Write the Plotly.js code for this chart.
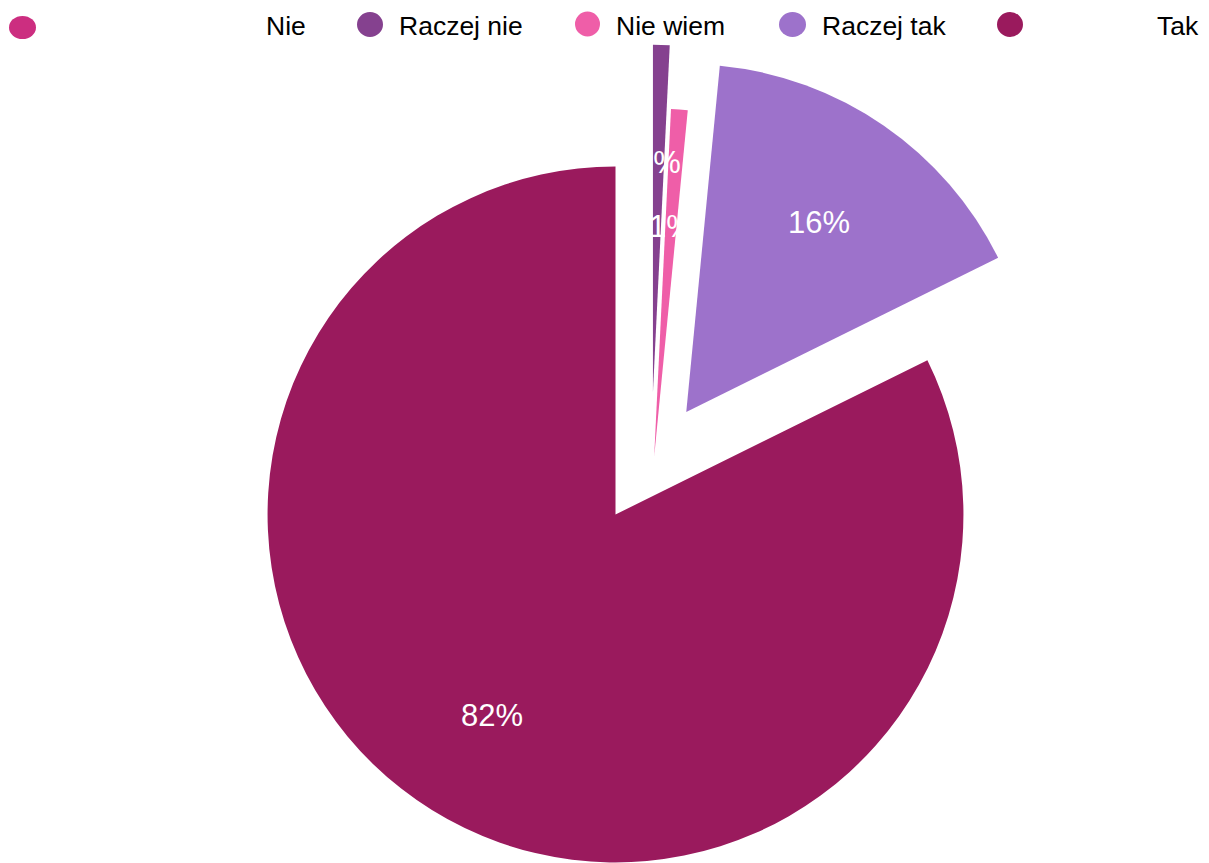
<!DOCTYPE html>
<html><head><meta charset="utf-8">
<script src="https://cdn.plot.ly/plotly-3.0.1.min.js"></script>
<style>html,body{margin:0;padding:0;background:#fff;overflow:hidden}#wrap{width:1209px;height:863px;overflow:hidden;position:relative}</style>
</head><body><div id="wrap"><div id="chart"></div></div>
<script>
// ---- data ----
const categories = ['Nie', 'Raczej nie', 'Nie wiem', 'Raczej tak', 'Tak'];
const counts = [0, 1, 1, 21, 107];
const sliceColors = ['#cc2e80', '#85418f', '#ef5ea8', '#9d72cb', '#9a1a5d'];

// ---- style / layout constants ----
const W = 1209, H = 987, ML = 22, MT = 42;
const PW = W - ML, PH = H - MT;
const pulls = [0, 0.35, 0.167, 0.358, 0];
const thinGroup = [false, true, true, false, false];   // slivers drawn in the offset pie
const offsetDomainX = [0.0581, 1];
const FONT = 'Liberation Sans, Arial, sans-serif';
const LABEL_R = 0.67;
const LABEL_DY = 2.5;
const CLEAR = 'rgba(0,0,0,0)';

const total = counts.reduce((a, b) => a + b, 0);
const px = x => (x - ML) / PW;
const py = y => 1 - (y - MT) / PH;

// legend layout (page pixels)
const legMarkers = [[22.5, 27.5, 27, 23], [370, 24.5, 26, 25], [587.5, 24, 25, 25], [792.5, 24.5, 27, 25], [1010, 24.5, 26, 25]];
const legTextX = [264, 397, 614, 820, 1155];
const legTextY = 25.5;

const shapes = [];
const annotations = [];
categories.forEach((c, i) => {
  const m = legMarkers[i];
  shapes.push({type: 'circle', xref: 'paper', yref: 'paper',
    x0: px(m[0] - m[2] / 2), x1: px(m[0] + m[2] / 2),
    y0: py(m[1] + m[3] / 2), y1: py(m[1] - m[3] / 2),
    fillcolor: sliceColors[i], line: {width: 0}});
  annotations.push({xref: 'paper', yref: 'paper', x: px(legTextX[i]), y: py(legTextY),
    xanchor: 'left', yanchor: 'middle', text: c, showarrow: false,
    font: {family: FONT, size: 26.5, color: '#000'}});
});

// pie geometry as Plotly computes it (domain y = [0,1])
const maxPull = Math.max(...pulls);
const ry = PH / 2;
const radius = ry / (1 + maxPull);
const cy = MT + PH / 2;
const cxMain = ML + PW / 2;
const cxOff = ML + PW * (offsetDomainX[0] + offsetDomainX[1]) / 2;

// percentage labels, placed from the data angles
let cum = 0;
counts.forEach((v, i) => {
  const mid = 2 * Math.PI * (cum + v / 2) / total;
  cum += v;
  if (v <= 0) return;
  const sx = Math.sin(mid), sy = -Math.cos(mid);
  const cx = thinGroup[i] ? cxOff : cxMain;
  const d = (pulls[i] + LABEL_R) * radius;
  annotations.push({xref: 'paper', yref: 'paper', x: px(cx + d * sx), y: py(cy + d * sy + LABEL_DY),
    xanchor: 'center', yanchor: 'middle', showarrow: false,
    text: Math.round(100 * v / total) + '%',
    font: {family: FONT, size: 31, color: '#fff'}});
});

const base = {
  type: 'pie', labels: categories, values: counts, sort: false,
  direction: 'clockwise', rotation: 0, pull: pulls,
  textinfo: 'none', hoverinfo: 'skip', showlegend: false
};
const mainTrace = Object.assign({}, base, {
  marker: {colors: sliceColors.map((c, i) => thinGroup[i] ? CLEAR : c), line: {width: 0}},
  domain: {x: [0, 1], y: [0, 1]}
});
const offsetTrace = Object.assign({}, base, {
  marker: {colors: sliceColors.map((c, i) => thinGroup[i] ? c : CLEAR), line: {width: 0}},
  domain: {x: offsetDomainX, y: [0, 1]}
});

Plotly.newPlot('chart', [mainTrace, offsetTrace], {
  width: W, height: H, margin: {l: ML, r: 0, t: MT, b: 0, pad: 0},
  paper_bgcolor: '#fff', plot_bgcolor: '#fff', showlegend: false,
  shapes: shapes, annotations: annotations, font: {family: FONT}
}, {displayModeBar: false, staticPlot: true});
</script></body></html>
